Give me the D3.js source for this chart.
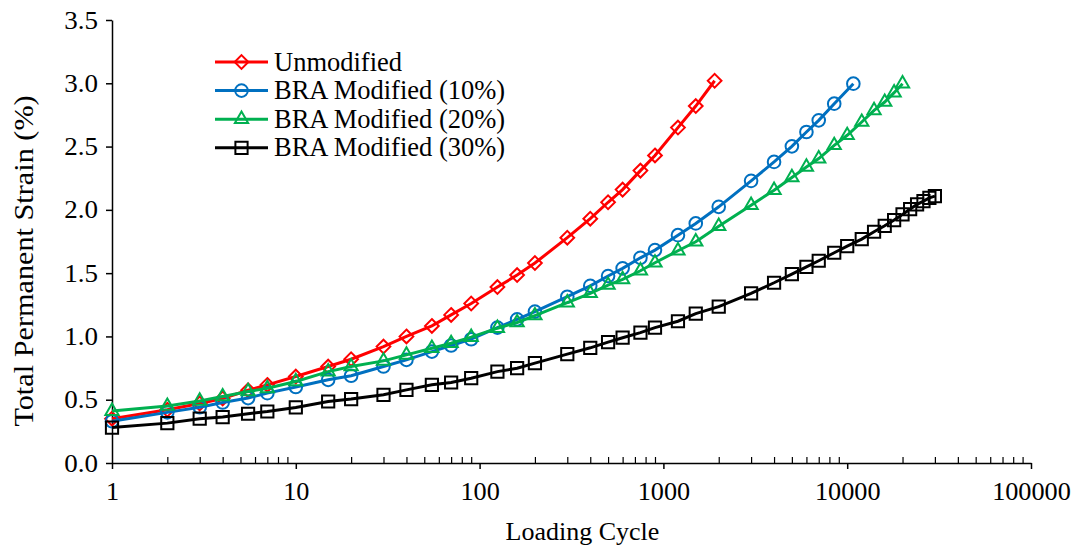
<!DOCTYPE html>
<html>
<head>
<meta charset="utf-8">
<script src="https://cdn.jsdelivr.net/npm/d3@7"></script>
<style>
  body { margin: 0; background: #fff; }
  text { font-family: "Liberation Serif", "Times New Roman", serif; fill: #000; }
</style>
</head>
<body>
<div id="chart"></div>
<script>
// loading cycles and strain (%) for each mix
let cyclesA = [1, 2, 3, 4, 5.5, 7, 10, 15, 20, 30, 40, 55, 70, 90, 125, 160, 200, 300, 400, 500, 600, 750, 900, 1200, 1500, 1900];
let unmodified = [0.35, 0.42, 0.47, 0.51, 0.575, 0.617, 0.683, 0.762, 0.82, 0.92, 1.0, 1.083, 1.17, 1.26, 1.39, 1.485, 1.58, 1.78, 1.93, 2.06, 2.16, 2.31, 2.43, 2.65, 2.82, 3.02];

let cyclesB = [1, 2, 3, 4, 5.5, 7, 10, 15, 20, 30, 40, 55, 70, 90, 125, 160, 200, 300, 400, 500, 600, 750, 900, 1200, 1500, 2000, 3000, 4000, 5000, 6000, 7000, 8500, 10800];
let bra10 = [0.33, 0.40, 0.44, 0.478, 0.513, 0.552, 0.60, 0.657, 0.689, 0.762, 0.815, 0.88, 0.928, 0.978, 1.07, 1.135, 1.196, 1.314, 1.40, 1.477, 1.538, 1.621, 1.682, 1.80, 1.893, 2.024, 2.229, 2.379, 2.502, 2.615, 2.707, 2.839, 2.997];

let cyclesC = [1, 2, 3, 4, 5.5, 7, 10, 15, 20, 30, 40, 55, 70, 90, 125, 160, 200, 300, 400, 500, 600, 750, 900, 1200, 1500, 2000, 3000, 4000, 5000, 6000, 7000, 8500, 10000, 12000, 14000, 16000, 18000, 20000];
let bra20 = [0.41, 0.45, 0.49, 0.525, 0.565, 0.59, 0.644, 0.722, 0.762, 0.807, 0.854, 0.907, 0.946, 0.994, 1.065, 1.11, 1.165, 1.267, 1.341, 1.406, 1.451, 1.519, 1.582, 1.677, 1.748, 1.871, 2.037, 2.155, 2.256, 2.339, 2.405, 2.51, 2.589, 2.694, 2.786, 2.852, 2.926, 2.997];

let cyclesD = [1, 2, 3, 4, 5.5, 7, 10, 15, 20, 30, 40, 55, 70, 90, 125, 160, 200, 300, 400, 500, 600, 750, 900, 1200, 1500, 2000, 3000, 4000, 5000, 6000, 7000, 8500, 10000, 12000, 14000, 16000, 18000, 20000, 22000, 24000, 26000, 28000, 30000];
let bra30 = [0.28, 0.315, 0.35, 0.363, 0.389, 0.407, 0.439, 0.486, 0.505, 0.539, 0.578, 0.618, 0.636, 0.67, 0.722, 0.749, 0.789, 0.86, 0.91, 0.955, 0.99, 1.03, 1.07, 1.12, 1.18, 1.235, 1.34, 1.424, 1.493, 1.55, 1.598, 1.661, 1.714, 1.769, 1.827, 1.874, 1.919, 1.964, 2.006, 2.043, 2.069, 2.095, 2.108];

let seriesNames = ["Unmodified", "BRA Modified (10%)", "BRA Modified (20%)", "BRA Modified (30%)"];
let seriesColors = ["#ff0000", "#0070c0", "#00b050", "#000000"];
let seriesMarkers = ["diamond", "circle", "triangle", "square"];

let xTicks = [1, 10, 100, 1000, 10000, 100000];
let yTicks = [0, 0.5, 1, 1.5, 2, 2.5, 3, 3.5];

let svgWidth = 1072;
let svgHeight = 548;
let plot = { left: 112, right: 1031, top: 20, bottom: 463 };

let series = [
    { name: seriesNames[0], x: cyclesA, y: unmodified },
    { name: seriesNames[1], x: cyclesB, y: bra10 },
    { name: seriesNames[2], x: cyclesC, y: bra20 },
    { name: seriesNames[3], x: cyclesD, y: bra30 }
].map((s, i) => ({
    name: s.name,
    color: seriesColors[i],
    marker: seriesMarkers[i],
    points: s.x.map((c, j) => ({ c: c, v: s.y[j] }))
}));

var svg = d3.select("#chart")
    .append("svg")
    .attr("width", svgWidth)
    .attr("height", svgHeight);

var x = d3.scaleLog().domain([1, 100000]).range([plot.left, plot.right]);
var y = d3.scaleLinear().domain([0, 3.5]).range([plot.bottom, plot.top]);

// text in the reference is a little wider than plain Times, stretch it a bit
function stretch(sel, sx) {
    sel.each(function() {
        var w = this.getComputedTextLength();
        d3.select(this).attr("textLength", w * sx).attr("lengthAdjust", "spacingAndGlyphs");
    });
}

// y axis
var yAxis = svg.append("g")
    .attr("transform", `translate(${plot.left}, 0)`)
    .call(d3.axisLeft(y).tickValues(yTicks).tickFormat(d3.format(".1f")).tickSize(6).tickSizeOuter(0));
yAxis.select(".domain").attr("stroke", "#000").attr("stroke-width", 1.5);
yAxis.selectAll(".tick line").attr("stroke-width", 1.5);
yAxis.selectAll(".tick text")
    .attr("x", -14)
    .attr("font-size", "25px")
    .attr("font-family", "Liberation Serif");

// minor ticks on log axis (inside)
var minor = [];
for (let d = 1; d < 100000; d *= 10) {
    for (let k = 2; k <= 9; k++) minor.push(d * k);
}
var xMinor = svg.append("g")
    .attr("transform", `translate(0, ${plot.bottom})`)
    .call(d3.axisBottom(x).tickValues(minor).tickFormat("").tickSize(-6).tickSizeOuter(0));
xMinor.select(".domain").remove();
xMinor.selectAll(".tick line").attr("stroke-width", 1.2);

// x axis
var xAxis = svg.append("g")
    .attr("transform", `translate(0, ${plot.bottom})`)
    .call(d3.axisBottom(x).tickValues(xTicks).tickFormat(d3.format("d")).tickSize(6).tickSizeOuter(0));
xAxis.select(".domain").attr("stroke", "#000").attr("stroke-width", 1.5);
xAxis.selectAll(".tick line").attr("stroke-width", 1.5);
xAxis.selectAll(".tick text")
    .attr("y", 19)
    .attr("font-size", "25px")
    .attr("font-family", "Liberation Serif");

stretch(yAxis.selectAll(".tick text"), 1.08);
stretch(xAxis.selectAll(".tick text"), 1.05);

// axis titles
svg.append("text")
    .attr("x", (plot.left + plot.right) / 2 + 11)
    .attr("y", 540)
    .attr("text-anchor", "middle")
    .attr("font-size", "26px")
    .text("Loading Cycle");

var yTitle = svg.append("text")
    .attr("transform", `translate(33, ${261}) rotate(-90)`)
    .attr("text-anchor", "middle")
    .attr("font-size", "28px")
    .text("Total Permanent Strain (%)");
stretch(yTitle, 1.08);

// marker symbols
var symbolTypes = {
    diamond: d3.symbolDiamond2,
    circle: d3.symbolCircle,
    triangle: d3.symbolTriangle2,
    square: d3.symbolSquare2
};
var symbolSizes = { diamond: 120, circle: 125, triangle: 125, square: 190 };

var line = d3.line()
    .x(d => x(d.c))
    .y(d => y(d.v));

series.forEach(function(s) {
    var g = svg.append("g");
    g.append("path")
        .datum(s.points)
        .attr("d", line)
        .attr("fill", "none")
        .attr("stroke", s.color)
        .attr("stroke-width", 3);

    g.selectAll("path.marker")
        .data(s.points)
        .enter()
        .append("path")
        .attr("class", "marker")
        .attr("d", d3.symbol().type(symbolTypes[s.marker]).size(symbolSizes[s.marker]))
        .attr("transform", d => `translate(${x(d.c)}, ${y(d.v)})`)
        .attr("fill", "none")
        .attr("stroke", s.color)
        .attr("stroke-width", 2);
});

// legend
var legend = svg.append("g")
    .attr("transform", "translate(215, 62)");

var legendItems = legend.selectAll("g")
    .data(series)
    .enter()
    .append("g")
    .attr("transform", (d, i) => `translate(0, ${i * 28.6})`);

legendItems.append("line")
    .attr("x1", 0)
    .attr("x2", 53)
    .attr("stroke", d => d.color)
    .attr("stroke-width", 3);

legendItems.append("path")
    .attr("d", d => d3.symbol().type(symbolTypes[d.marker]).size(symbolSizes[d.marker])())
    .attr("transform", "translate(26.5, 0)")
    .attr("fill", "none")
    .attr("stroke", d => d.color)
    .attr("stroke-width", 2);

legendItems.append("text")
    .attr("x", 59)
    .attr("y", 8.5)
    .attr("font-size", "26.5px")
    .text(d => d.name);
</script>
</body>
</html>
